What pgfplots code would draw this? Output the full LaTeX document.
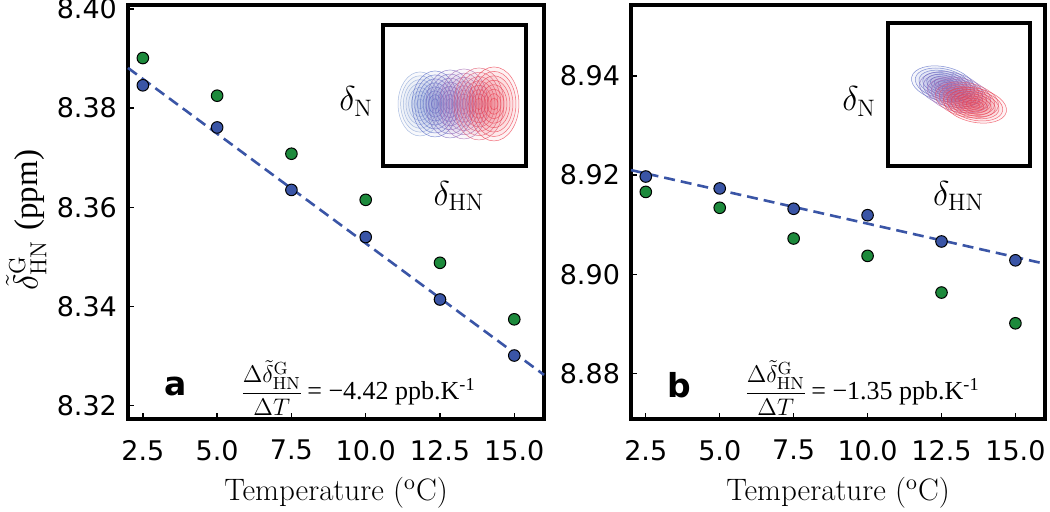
\documentclass[border=0pt]{standalone}
\usepackage{fontspec}
\usepackage{pgfplots}
\pgfplotsset{compat=1.18}
\newfontfamily\dvs{DejaVu Sans}
\newfontfamily\libser{Liberation Serif}
\definecolor{mblue}{HTML}{3A55A6}
\definecolor{mgreen}{HTML}{1D8A3C}
\definecolor{b1}{HTML}{8FA8D8}
\definecolor{b2}{HTML}{5B6DC8}
\definecolor{b3}{HTML}{7E6CC0}
\definecolor{b4}{HTML}{A66AB4}
\definecolor{b5}{HTML}{E0566E}
\definecolor{b6}{HTML}{EE3E4E}
\newcommand{\blob}[6]{%
  \pgfplotsinvokeforeach{1,0.88,0.76,0.64,0.52,0.4,0.28,0.16}{%
    \draw[#5, line width=0.25pt, draw opacity=0.75, fill=#5, fill opacity=0.06]
      (axis cs:#1,#2) circle [x radius=##1*#3, y radius=##1*#4, rotate=#6];
  }%
}
\pgfplotsset{
  mainax/.style={
    scale only axis, height=207pt,
    xmin=2, xmax=16,
    axis line style={line width=2pt},
    tick style={line width=0.7pt, black},
    major tick length=3pt,
    tick pos=left, tick align=inside,
    xtick={2.5,5,7.5,10,12.5,15},
    xticklabels={2.5,5.0,7.5,10.0,12.5,15.0},
    ticklabel style={font=\dvs\fontsize{13.5}{15}\selectfont},
    xticklabel style={yshift=-7pt},
    yticklabel style={xshift=-2pt},
    xlabel={Temperature ($^{\mathrm{o}}$C)},
    xlabel style={font=\fontsize{15.5}{18}\selectfont, at={(axis description cs:0.5,-0.178)}, anchor=center},
    clip=false,
  },
  insetax/.style={
    scale only axis, xmin=0, xmax=1, ymin=0, ymax=1,
    xtick=\empty, ytick=\empty,
    axis line style={line width=2pt},
    axis background/.style={fill=white},
  },
  fitline/.style={mblue, line width=1.3pt, dash pattern=on 5.5pt off 3pt},
  gpts/.style={only marks, mark=*, mark size=2.9pt, mark options={fill=mgreen, draw=black, line width=0.5pt}},
  bpts/.style={only marks, mark=*, mark size=2.9pt, mark options={fill=mblue, draw=black, line width=0.5pt}},
}
\begin{document}
\begin{tikzpicture}
\path[use as bounding box] (0,0) rectangle (525pt,256pt);
% ---------- panel a ----------
\begin{axis}[mainax, width=208pt, at={(64pt,46.5pt)}, anchor=south west,
  ymin=8.3173, ymax=8.4008,
  ytick={8.32,8.34,8.36,8.38,8.40},
  yticklabels={8.32,8.34,8.36,8.38,8.40},
  ylabel={$\tilde{\delta}^{\mathrm{G}}_{\mathrm{HN}}$\ {\libser (ppm)}},
  ylabel style={font=\fontsize{16.5}{18}\selectfont, at={(axis description cs:-0.245,0.48)}, anchor=center},
]
\addplot[fitline] coordinates {(2,8.3881) (16,8.3262)};
\addplot[gpts] coordinates {(2.5,8.3901) (5,8.3825) (7.5,8.3708) (10,8.3615) (12.5,8.3488) (15,8.3374)};
\addplot[bpts] coordinates {(2.5,8.3846) (5,8.3761) (7.5,8.3635) (10,8.3540) (12.5,8.3414) (15,8.3301)};
\end{axis}
\begin{axis}[insetax, width=71.5pt, height=70.5pt, at={(191.5pt,173pt)}, anchor=south west]
\blob{0.259}{0.44}{11pt}{16pt}{b1}{0}
\blob{0.364}{0.44}{11.5pt}{16.5pt}{b2}{0}
\blob{0.469}{0.44}{12pt}{17pt}{b3}{0}
\blob{0.566}{0.44}{12pt}{17.5pt}{b4}{0}
\blob{0.671}{0.44}{12.5pt}{18pt}{b5}{0}
\blob{0.776}{0.44}{12.5pt}{18.5pt}{b6}{0}
\end{axis}
% ---------- panel b ----------
\begin{axis}[mainax, width=207pt, at={(315.5pt,46.5pt)}, anchor=south west,
  ymin=8.8708, ymax=8.9543,
  ytick={8.88,8.90,8.92,8.94},
  yticklabels={8.88,8.90,8.92,8.94},
]
\addplot[fitline] coordinates {(2,8.9210) (16,8.9021)};
\addplot[gpts] coordinates {(2.5,8.9166) (5,8.9134) (7.5,8.9072) (10,8.9037) (12.5,8.8963) (15,8.8901)};
\addplot[bpts] coordinates {(2.5,8.9197) (5,8.9173) (7.5,8.9132) (10,8.9119) (12.5,8.9066) (15,8.9028)};
\end{axis}
\begin{axis}[insetax, width=71pt, height=71.5pt, at={(444pt,173pt)}, anchor=south west]
\blob{0.387}{0.575}{16pt}{8.5pt}{b2}{-12}
\blob{0.444}{0.535}{16pt}{8.5pt}{b3}{-12}
\blob{0.500}{0.497}{16pt}{8.5pt}{b4}{-12}
\blob{0.556}{0.462}{16pt}{8.5pt}{b5}{-12}
\blob{0.613}{0.425}{16pt}{8.5pt}{b6}{-12}
\end{axis}
% ---------- annotations ----------
\node[font=\dvs\bfseries\fontsize{16.5}{18}\selectfont] at (88pt,62.5pt) {a};
\node[font=\dvs\bfseries\fontsize{16.5}{18}\selectfont] at (339.5pt,63.5pt) {b};
\node[anchor=west, font=\fontsize{12.5}{15}\selectfont, inner sep=0pt] at (120pt,62pt)
  {$\displaystyle\frac{\Delta\tilde{\delta}^{\mathrm{G}}_{\mathrm{HN}}}{\Delta T}$\,{\libser\fontsize{13}{15}\selectfont = −4.42 ppb.K\textsuperscript{-1}}};
\node[anchor=west, font=\fontsize{12.5}{15}\selectfont, inner sep=0pt] at (372pt,62pt)
  {$\displaystyle\frac{\Delta\tilde{\delta}^{\mathrm{G}}_{\mathrm{HN}}}{\Delta T}$\,{\libser\fontsize{13}{15}\selectfont = −1.35 ppb.K\textsuperscript{-1}}};
\node[font=\fontsize{17}{19}\selectfont] at (178pt,205.25pt) {$\delta_{\mathrm{N}}$};
\node[font=\fontsize{17}{19}\selectfont] at (229.5pt,158pt) {$\delta_{\mathrm{HN}}$};
\node[font=\fontsize{17}{19}\selectfont] at (429.5pt,205.25pt) {$\delta_{\mathrm{N}}$};
\node[font=\fontsize{17}{19}\selectfont] at (479.25pt,158pt) {$\delta_{\mathrm{HN}}$};
\end{tikzpicture}
\end{document}
